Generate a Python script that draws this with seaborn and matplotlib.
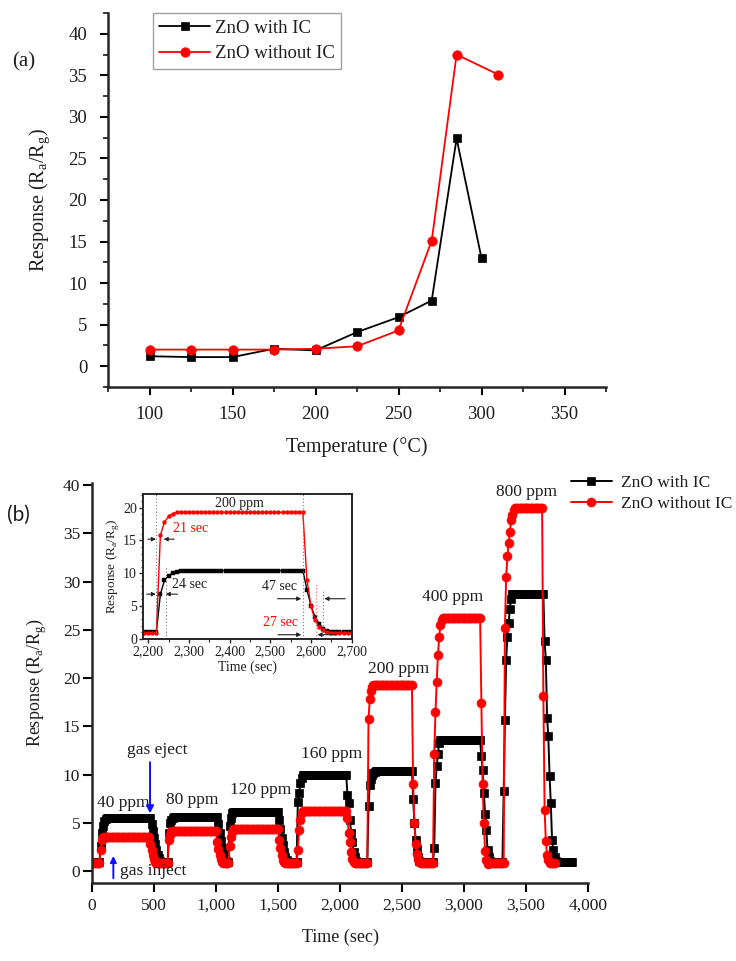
import numpy as np
import pandas as pd
import matplotlib
matplotlib.use("Agg")
import matplotlib.pyplot as plt
from matplotlib.ticker import MultipleLocator, FuncFormatter
import seaborn as sns

# ---------------- Panel (a): response vs temperature ----------------
temp_with_ic = [100, 125, 150, 175, 200, 225, 250, 270, 285, 300]
resp_with_ic = [1.2, 1.1, 1.1, 2.1, 1.9, 4.1, 5.9, 7.9, 27.4, 13.0]
temp_without_ic = [100, 125, 150, 175, 200, 225, 250, 270, 285, 310]
resp_without_ic = [2.0, 2.0, 2.0, 2.0, 2.1, 2.4, 4.3, 15.1, 37.5, 35.1]

# ---------------- Panel (b): dynamic response (10 s samples) ----------------
sample_step = 10
ppm_labels = ["40 ppm", "80 ppm", "120 ppm", "160 ppm", "200 ppm", "400 ppm", "800 ppm"]
ppm_label_time = [254, 810, 1361, 1933, 2470, 2909, 3505]
ppm_label_resp = [7.1, 7.4, 8.4, 12.1, 20.9, 28.4, 39.3]

# ZnO with IC
wic_baseline = 1.0
wic_end = 3870
wic_inject = [70, 620, 1110, 1660, 2230, 2760, 3320]
wic_rise = [[2.6, 4.0, 4.7, 5.2, 5.4],
            [4.0, 5.0, 5.3, 5.5],
            [4.7, 5.5, 6.0],
            [7.2, 8.1, 9.1, 9.7],
            [6.8, 8.9, 9.6, 10.0, 10.2, 10.3],
            [2.4, 9.1, 10.9, 12.2, 13.3],
            [8.3, 15.7, 21.9, 24.3, 25.7, 27.2, 28.2]]
wic_plateau = [5.5, 5.6, 6.2, 10.0, 10.4, 13.6, 28.7]
wic_eject = [470, 1010, 1500, 2050, 2580, 3130, 3640]
wic_decay = [[4.9, 4.2, 3.5, 2.8, 2.2, 1.7, 1.4, 1.1],
             [4.9, 4.0, 3.1, 2.4, 1.8, 1.4, 1.1],
             [5.3, 4.4, 3.5, 2.7, 2.0, 1.5, 1.2],
             [7.9, 7.1, 5.3, 4.0, 3.0, 2.0, 1.5, 1.1],
             [7.5, 5.0, 3.3, 2.3, 1.5, 1.1],
             [11.9, 10.5, 8.1, 5.9, 4.3, 2.2, 1.5, 1.1],
             [23.8, 21.9, 15.9, 14.0, 9.9, 7.1, 3.3, 2.2, 1.5, 1.1]]

# ZnO without IC
woc_baseline = 0.9
woc_end = 3730
woc_inject = [70, 620, 1110, 1660, 2230, 2760, 3330]
woc_rise = [[2.2, 3.3],
            [3.3, 3.8],
            [2.6, 3.6, 4.1],
            [2.2, 4.3, 5.3, 6.0],
            [15.8, 17.8, 18.7, 19.1],
            [12.2, 16.5, 19.6, 22.4, 24.3, 25.5, 26.0],
            [25.2, 30.5, 32.6, 34.0, 35.1, 36.4, 36.9, 37.4]]
woc_plateau = [3.6, 4.2, 4.4, 6.3, 19.3, 26.2, 37.6]
woc_eject = [460, 1000, 1500, 2050, 2580, 3130, 3630]
woc_decay = [[2.8, 2.2, 1.7, 1.3, 1.0],
             [3.0, 2.3, 1.7, 1.3, 1.0],
             [3.3, 2.4, 1.7, 1.2, 1.0],
             [5.5, 4.0, 3.0, 2.0, 1.3, 1.0],
             [9.0, 5.0, 2.8, 1.8, 1.3, 1.0],
             [17.4, 9.0, 5.0, 2.1, 1.2, 0.8],
             [18.2, 6.4, 3.1, 1.7, 1.2]]


def assemble(end, baseline, inject, rise, plateau, eject, decay):
    t = np.arange(0, end + 1, sample_step)
    v = np.full(t.shape, baseline, dtype=float)
    for t_on, r, p, t_off, d in zip(inject, rise, plateau, eject, decay):
        i_on = t_on // sample_step
        v[i_on:i_on + len(r)] = r
        i_off = t_off // sample_step
        v[i_on + len(r):i_off + 1] = p
        v[i_off + 1:i_off + 1 + len(d)] = d
    return pd.DataFrame({"time": t, "resp": v})


df_wic = assemble(wic_end, wic_baseline, wic_inject, wic_rise, wic_plateau, wic_eject, wic_decay)
df_woc = assemble(woc_end, woc_baseline, woc_inject, woc_rise, woc_plateau, woc_eject, woc_decay)
df_a_wic = pd.DataFrame({"temp": temp_with_ic, "resp": resp_with_ic})
df_a_woc = pd.DataFrame({"temp": temp_without_ic, "resp": resp_without_ic})

# ---------------- Styling ----------------
sns.set_style("ticks")
plt.rcParams["font.family"] = ["Liberation Serif", "DejaVu Serif"]
plt.rcParams["axes.linewidth"] = 1.8
TXT = "#1e1e1e"
RED = "#ff0000"

W, H = 736, 961
fig = plt.figure(figsize=(W / 100, H / 100), dpi=100)


def frac(l, t, r, b):
    return [l / W, 1 - b / H, (r - l) / W, (b - t) / H]


ylab = "Response (R$_\\mathregular{a}$/R$_\\mathregular{g}$)"

# ---------------- Panel (a) ----------------
ax_a = fig.add_axes(frac(108, 13, 606, 387))
sns.lineplot(data=df_a_wic, x="temp", y="resp", ax=ax_a, color="black", marker="s",
             markersize=6, linewidth=1.3, markeredgecolor="black", markeredgewidth=0.5,
             label="ZnO with IC", estimator=None, sort=False)
sns.lineplot(data=df_a_woc, x="temp", y="resp", ax=ax_a, color=RED, marker="o",
             markersize=6.8, linewidth=1.3, markeredgecolor=RED, markeredgewidth=0.5,
             label="ZnO without IC", estimator=None, sort=False)
ax_a.set_xlim(75, 375)
ax_a.set_ylim(-2.5, 42.5)
ax_a.xaxis.set_major_locator(MultipleLocator(50))
ax_a.xaxis.set_minor_locator(MultipleLocator(25))
ax_a.yaxis.set_major_locator(MultipleLocator(5))
ax_a.yaxis.set_minor_locator(MultipleLocator(2.5))
ax_a.set_xticks([100, 150, 200, 250, 300, 350])
ax_a.set_yticks([0, 5, 10, 15, 20, 25, 30, 35, 40])
ax_a.tick_params(axis="both", which="major", direction="out", length=6, width=1.5,
                 labelsize=13.5, colors="black", labelcolor=TXT)
ax_a.tick_params(axis="y", which="major", pad=9)
ax_a.tick_params(axis="x", which="major", pad=8)
ax_a.tick_params(axis="both", which="minor", direction="out", length=3.5, width=1.3)
sns.despine(ax=ax_a)
ax_a.set_xlabel("Temperature (°C)", fontsize=14.5, color=TXT, labelpad=10)
ax_a.set_ylabel(ylab, fontsize=14.5, color=TXT, labelpad=12)
leg_a = ax_a.legend(loc="upper left", bbox_to_anchor=(0.09, 1.0), borderaxespad=0,
                    frameon=True, fancybox=False, edgecolor="#888888", fontsize=13.5,
                    handlelength=2.7, handletextpad=0.25, labelspacing=0.45,
                    borderpad=0.35)
leg_a.get_frame().set_linewidth(1.0)
for t in leg_a.get_texts():
    t.set_color(TXT)

# ---------------- Panel (b) ----------------
ax_b = fig.add_axes(frac(92, 483, 588, 883))
sns.lineplot(data=df_wic, x="time", y="resp", ax=ax_b, color="black", marker="s",
             markersize=5.2, linewidth=1.4, markeredgecolor="black", markeredgewidth=0.5,
             label="ZnO with IC", estimator=None, sort=False)
sns.lineplot(data=df_woc, x="time", y="resp", ax=ax_b, color=RED, marker="o",
             markersize=6.4, linewidth=1.4, markeredgecolor=RED, markeredgewidth=0.5,
             label="ZnO without IC", estimator=None, sort=False)
ax_b.set_xlim(0, 4000)
ax_b.set_ylim(-1.2, 40.2)
ax_b.set_xticks(range(0, 4001, 500))
ax_b.set_yticks(range(0, 41, 5))
ax_b.xaxis.set_major_formatter(FuncFormatter(lambda x, p: f"{x:,.0f}"))
ax_b.tick_params(axis="both", which="major", direction="out", length=6.5, width=1.5,
                 labelsize=12.5, colors="black", labelcolor=TXT)
ax_b.tick_params(axis="y", pad=2)
ax_b.tick_params(axis="x", pad=4)
sns.despine(ax=ax_b)
ax_b.set_xlabel("Time (sec)", fontsize=13, color=TXT, labelpad=11)
ax_b.set_ylabel(ylab, fontsize=13, color=TXT, labelpad=10)
leg_b = ax_b.legend(loc="upper left", bbox_to_anchor=(0.965, 1.02), borderaxespad=0,
                    frameon=False, fontsize=12.5, handlelength=2.4, handletextpad=0.5,
                    labelspacing=0.25, borderpad=0)
for t in leg_b.get_texts():
    t.set_color(TXT)

for lab, tx, ty in zip(ppm_labels, ppm_label_time, ppm_label_resp):
    ax_b.text(tx, ty, lab, fontsize=12.5, color=TXT, ha="center", va="center")

ax_b.annotate("", xy=(468, 6.0), xytext=(468, 11.3),
              arrowprops=dict(arrowstyle="-|>", color="#1010ff", lw=1.4, mutation_scale=11,
                              shrinkA=0, shrinkB=0))
ax_b.text(279, 12.6, "gas eject", fontsize=12.5, color=TXT, ha="left", va="center")
ax_b.annotate("", xy=(172, 1.6), xytext=(172, -0.7),
              arrowprops=dict(arrowstyle="-|>", color="#1010ff", lw=1.4, mutation_scale=9,
                              shrinkA=0, shrinkB=0))
ax_b.text(226, 0.0, "gas inject", fontsize=12.5, color=TXT, ha="left", va="center")

# ---------------- Inset ----------------
ax_in = fig.add_axes(frac(143.3, 494, 351.7, 639.3))
sns.lineplot(data=df_wic, x="time", y="resp", ax=ax_in, color="black", marker="s",
             markersize=2.2, linewidth=1.0, markeredgecolor="black", markeredgewidth=0.3,
             estimator=None, sort=False, legend=False)
sns.lineplot(data=df_woc, x="time", y="resp", ax=ax_in, color=RED, marker="o",
             markersize=2.8, linewidth=1.0, markeredgecolor=RED, markeredgewidth=0.3,
             estimator=None, sort=False, legend=False)
ax_in.set_xlim(2188, 2700)
ax_in.set_ylim(-0.1, 22.1)
ax_in.set_xticks(range(2200, 2701, 100))
ax_in.set_yticks([0, 5, 10, 15, 20])
ax_in.xaxis.set_minor_locator(MultipleLocator(50))
ax_in.yaxis.set_minor_locator(MultipleLocator(1))
ax_in.xaxis.set_major_formatter(FuncFormatter(lambda x, p: f"{x:,.0f}"))
ax_in.tick_params(axis="both", which="major", direction="out", length=3, width=1.0,
                  labelsize=10, pad=1.5, labelcolor=TXT)
ax_in.tick_params(axis="both", which="minor", direction="out", length=1.8, width=0.8)
for s in ax_in.spines.values():
    s.set_linewidth(1.4)
ax_in.set_xlabel("Time (sec)", fontsize=10, color=TXT, labelpad=1.5)
ax_in.set_ylabel(ylab, fontsize=9.5, color=TXT, labelpad=1.5)

dot = dict(ls=(0, (1, 2)), lw=0.8)
ax_in.plot([2220, 2220], [-0.1, 22.1], color="#777777", **dot)
ax_in.plot([2244, 2244], [0, 11], color="#777777", **dot)
ax_in.plot([2580, 2580], [-0.1, 22.1], color="#777777", **dot)
ax_in.plot([2612, 2612], [0, 8.5], color="#ff6666", **dot)
ax_in.plot([2630, 2630], [0, 7.5], color="#777777", **dot)

arr = dict(arrowstyle="-|>", color="#222222", lw=0.8, mutation_scale=6, shrinkA=0, shrinkB=0)
ax_in.annotate("", xy=(2219, 15.2), xytext=(2199, 15.2), arrowprops=arr)
ax_in.annotate("", xy=(2238, 15.2), xytext=(2264, 15.2), arrowprops=arr)
ax_in.annotate("", xy=(2219, 6.8), xytext=(2196, 6.8), arrowprops=arr)
ax_in.annotate("", xy=(2243, 6.8), xytext=(2272, 6.8), arrowprops=arr)
ax_in.annotate("", xy=(2576, 6.1), xytext=(2518, 6.1), arrowprops=arr)
ax_in.annotate("", xy=(2633, 6.1), xytext=(2684, 6.1), arrowprops=arr)
ax_in.annotate("", xy=(2576, 0.6), xytext=(2519, 0.6), arrowprops=arr)
ax_in.annotate("", xy=(2616, 0.6), xytext=(2663, 0.6), arrowprops=arr)

ax_in.text(2425, 20.7, "200 ppm", fontsize=10, color=TXT, ha="center", va="center")
ax_in.text(2261, 16.9, "21 sec", fontsize=10, color=RED, ha="left", va="center")
ax_in.text(2258, 8.2, "24 sec", fontsize=10, color=TXT, ha="left", va="center")
ax_in.text(2566, 7.9, "47 sec", fontsize=10, color=TXT, ha="right", va="center")
ax_in.text(2568, 2.5, "27 sec", fontsize=10, color=RED, ha="right", va="center")

# ---------------- Panel letters ----------------
fig.text(12 / W, 1 - 62 / H, "(a)", fontsize=15, color=TXT, ha="left", va="center")
fig.text(7 / W, 1 - 515 / H, "(b)", fontsize=15, color=TXT, ha="left", va="center",
         family=["Lato", "DejaVu Sans"])

fig.savefig("out.png", dpi=100)
